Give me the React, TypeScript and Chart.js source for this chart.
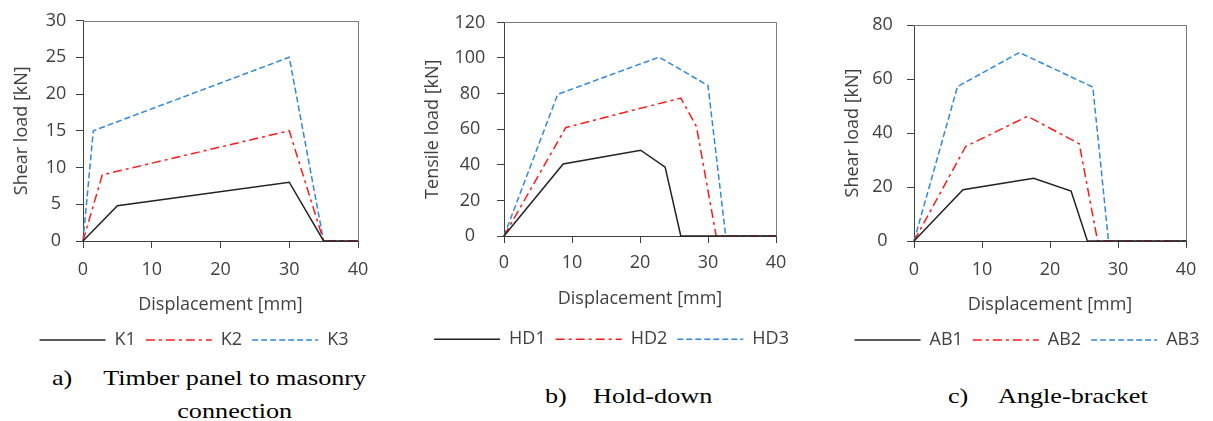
import React, { useEffect, useRef } from "react";
import { Chart, registerables } from "chart.js";

Chart.register(...registerables);

// ---------- data ----------
const X_TICKS = [0, 10, 20, 30, 40];

// a) Timber panel to masonry connection
const K1_X = [0, 5, 30, 35, 40];
const K1_Y = [0, 4.8, 8, 0, 0];
const K2_X = [0, 2.8, 30, 35, 40];
const K2_Y = [0, 9, 15, 0, 0];
const K3_X = [0, 1.5, 30, 35, 40];
const K3_Y = [0, 15, 25, 0, 0];

// b) Hold-down
const HD1_X = [0, 8.7, 20.1, 23.7, 26, 40];
const HD1_Y = [0, 40.5, 48.2, 38.7, 0, 0];
const HD2_X = [0, 9.1, 26, 28.3, 31.2, 40];
const HD2_Y = [0, 61, 77.5, 61.5, 0, 0];
const HD3_X = [0, 7.9, 22.8, 30, 32.6, 40];
const HD3_Y = [0, 79.6, 100.5, 84.5, 0, 0];

// c) Angle-bracket
const AB1_X = [0, 7.2, 17.6, 23.1, 25.5, 40];
const AB1_Y = [0, 19, 23.2, 18.5, 0, 0];
const AB2_X = [0, 7.6, 16.7, 24.3, 27, 40];
const AB2_Y = [0, 35, 46.2, 36, 0, 0];
const AB3_X = [0, 6.4, 15.5, 26.3, 28.6, 40];
const AB3_Y = [0, 57.2, 69.8, 57, 0, 0];

// ---------- styles ----------
const FONT = "'Open Sans', sans-serif";
const FS = 18;
const TEXT = "#404040";
const AXIS = "#404040";
const BLACK = "#222222";
const RED = "#ff1a1a";
const BLUE = "#3288d8";

const pts = (xs: number[], ys: number[]) => xs.map((x, i) => ({ x, y: ys[i] }));

const series = (labels: string[], xs: number[][], ys: number[][]) => {
  const colors = [BLACK, RED, BLUE];
  const dashes = [[], [9, 4, 3, 4], [6, 3]];
  return labels.map((label, i) => ({
    label,
    data: pts(xs[i], ys[i]),
    borderColor: colors[i],
    backgroundColor: colors[i],
    borderWidth: 1.5,
    borderDash: dashes[i],
    pointRadius: 0,
    fill: false,
    tension: 0,
    clip: false as any,
  }));
};

const framePlugin = {
  id: "frame",
  beforeDatasetsDraw(chart: any) {
    const { ctx, chartArea } = chart;
    const l = Math.round(chartArea.left);
    const r = Math.round(chartArea.right) + 0.5;
    const t = Math.round(chartArea.top) + 0.5;
    const b = Math.round(chartArea.bottom);
    ctx.save();
    ctx.strokeStyle = "#7a7a7a";
    ctx.lineWidth = 1;
    ctx.beginPath();
    ctx.moveTo(l, t);
    ctx.lineTo(r, t);
    ctx.lineTo(r, b);
    ctx.stroke();
    ctx.restore();
  },
};

type PanelProps = {
  left: number;
  width: number;
  height: number;
  yWidth: number;
  yTitle: string;
  yTitlePad: number;
  yTickPad: number;
  yMax: number;
  yStep: number;
  xHeight: number;
  xTitlePad: number;
  xTickPad: number;
  padRight: number;
  padTop: number;
  padBottom: number;
  datasets: any[];
};

function Panel(p: PanelProps) {
  const ref = useRef<HTMLCanvasElement | null>(null);
  useEffect(() => {
    if (!ref.current) return;
    const chart = new Chart(ref.current, {
      type: "line",
      data: { datasets: p.datasets },
      plugins: [framePlugin],
      options: {
        responsive: false,
        animation: false,
        devicePixelRatio: 1,
        layout: {
          padding: { left: 0, right: 0, top: p.padTop, bottom: p.padBottom },
        },
        plugins: {
          tooltip: { enabled: false },
          legend: {
            display: true,
            position: "bottom",
            labels: {
              usePointStyle: true,
              pointStyle: "line",
              pointStyleWidth: 66,
              padding: 10,
              color: TEXT,
              font: { family: FONT, size: FS },
              generateLabels: (chart: any) => {
                const items = (Chart.defaults as any).plugins.legend.labels.generateLabels(chart);
                return items.map((it: any) => {
                  const ds = chart.data.datasets[it.datasetIndex];
                  return {
                    ...it,
                    lineDash: ds.borderDash,
                    lineWidth: 1.5,
                    strokeStyle: ds.borderColor,
                    fillStyle: ds.borderColor,
                    pointStyle: "line",
                  };
                });
              },
            },
          },
        },
        scales: {
          x: {
            type: "linear",
            min: 0,
            max: 40,
            afterBuildTicks: (scale: any) => {
              scale.ticks = X_TICKS.map((v) => ({ value: v }));
            },
            afterFit: (scale: any) => {
              scale.height = p.xHeight;
            },
            ticks: {
              color: TEXT,
              padding: p.xTickPad,
              maxRotation: 0,
              font: { family: FONT, size: FS },
            },
            grid: {
              drawOnChartArea: false,
              drawTicks: true,
              tickLength: 7,
              color: AXIS,
            },
            border: { display: true, color: AXIS, width: 1 },
            title: {
              display: true,
              text: "Displacement [mm]",
              color: TEXT,
              font: { family: FONT, size: FS },
              padding: { top: 0, bottom: p.xTitlePad },
            },
          },
          y: {
            type: "linear",
            position: "left",
            min: 0,
            max: p.yMax,
            ticks: {
              stepSize: p.yStep,
              color: TEXT,
              padding: p.yTickPad,
              crossAlign: "center",
              font: { family: FONT, size: FS },
            },
            afterFit: (scale: any) => {
              scale.width = p.yWidth;
            },
            grid: {
              drawOnChartArea: false,
              drawTicks: true,
              tickLength: 7,
              color: AXIS,
            },
            border: { display: true, color: AXIS, width: 1 },
            title: {
              display: true,
              text: p.yTitle,
              color: TEXT,
              font: { family: FONT, size: FS },
              padding: { top: p.yTitlePad, bottom: 0 },
            },
          },
          yRightSpace: {
            type: "linear",
            position: "right",
            display: true,
            min: 0,
            max: 1,
            ticks: { display: false },
            grid: { display: false, drawTicks: false },
            border: { display: false },
            title: { display: false },
            afterFit: (scale: any) => {
              scale.width = p.padRight;
            },
          },
        },
      } as any,
    });
    return () => chart.destroy();
  }, []);
  return (
    <canvas
      ref={ref}
      width={p.width}
      height={p.height}
      style={{ position: "absolute", left: p.left, top: 0, display: "block" }}
    />
  );
}

const capStyle: React.CSSProperties = {
  position: "absolute",
  fontFamily: "'Liberation Serif', 'Times New Roman', serif",
  fontSize: 22,
  lineHeight: "33px",
  color: "#000",
  transform: "scaleX(1.19)",
  transformOrigin: "left top",
  whiteSpace: "nowrap",
};

export default function App() {
  return (
    <div
      style={{
        position: "fixed",
        left: 0,
        top: 0,
        width: 1213,
        height: 421,
        background: "#fff",
        overflow: "hidden",
      }}
    >
      <Panel
        left={0}
        width={388}
        height={360}
        yWidth={83}
        yTitle="Shear load [kN]"
        yTitlePad={10.9}
        yTickPad={9.7}
        yMax={30}
        yStep={5}
        xHeight={80}
        xTitlePad={5.2}
        xTickPad={11.2}
        padRight={30}
        padTop={16}
        padBottom={1}
        datasets={series(["K1", "K2", "K3"], [K1_X, K2_X, K3_X], [K1_Y, K2_Y, K3_Y])}
      />
      <Panel
        left={405}
        width={413}
        height={360}
        yWidth={99}
        yTitle="Tensile load [kN]"
        yTitlePad={17.2}
        yTickPad={11.6}
        yMax={120}
        yStep={20}
        xHeight={84.3}
        xTitlePad={10.2}
        xTickPad={9.5}
        padRight={42}
        padTop={16}
        padBottom={1.7}
        datasets={series(["HD1", "HD2", "HD3"], [HD1_X, HD2_X, HD3_X], [HD1_Y, HD2_Y, HD3_Y])}
      />
      <Panel
        left={841}
        width={372}
        height={360}
        yWidth={73}
        yTitle="Shear load [kN]"
        yTitlePad={0.7}
        yTickPad={14.2}
        yMax={80}
        yStep={20}
        xHeight={80}
        xTitlePad={5.2}
        xTickPad={11.2}
        padRight={27}
        padTop={16}
        padBottom={1}
        datasets={series(["AB1", "AB2", "AB3"], [AB1_X, AB2_X, AB3_X], [AB1_Y, AB2_Y, AB3_Y])}
      />

      <div style={{ ...capStyle, left: 52, top: 360.5 }}>a)</div>
      <div style={{ ...capStyle, left: 102, top: 360.5, width: 223, textAlign: "center" }}>
        Timber panel to masonry
        <br />
        connection
      </div>
      <div style={{ ...capStyle, left: 545, top: 378.5 }}>b)</div>
      <div style={{ ...capStyle, left: 593, top: 378.5 }}>Hold-down</div>
      <div style={{ ...capStyle, left: 948, top: 378.5 }}>c)</div>
      <div style={{ ...capStyle, left: 998, top: 378.5 }}>Angle-bracket</div>
    </div>
  );
}
